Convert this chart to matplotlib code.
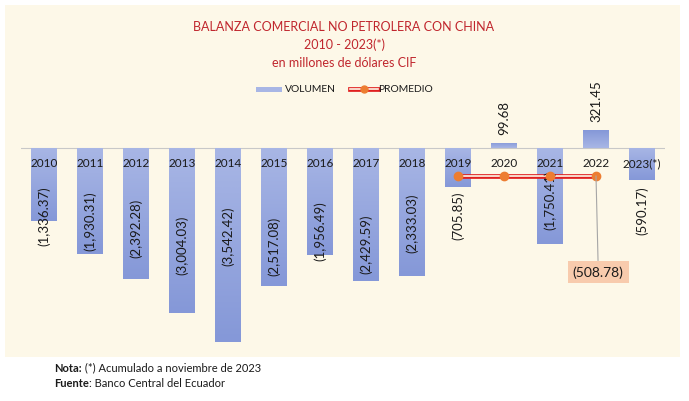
import matplotlib.pyplot as plt
import numpy as np
from matplotlib.colors import LinearSegmentedColormap

# Datos (millones de USD CIF)
years = ["2010", "2011", "2012", "2013", "2014", "2015", "2016",
         "2017", "2018", "2019", "2020", "2021", "2022", "2023(*)"]
volumen = [-1336.37, -1930.31, -2392.28, -3004.03, -3542.42, -2517.08, -1956.49,
           -2429.59, -2333.03, -705.85, 99.68, -1750.41, 321.45, -590.17]
value_labels = ["(1,336.37)", "(1,930.31)", "(2,392.28)", "(3,004.03)", "(3,542.42)",
                "(2,517.08)", "(1,956.49)", "(2,429.59)", "(2,333.03)", "(705.85)",
                "99.68", "(1,750.41)", "321.45", "(590.17)"]
# years used for the average line
prom_years = ["2019", "2020", "2021", "2022"]

# label positions (data units) as placed in the original chart
label_y = [-1223, -1314, -1442, -1752, -1588, -1770, -1505,
           -1734, -1350, -1223, 566, -931, 867, -1131]

plt.rcParams["font.family"] = ["Lato", "DejaVu Sans"]

bg = "#FDF8E8"
bar_light = "#A8B6E5"
bar_dark = "#8598D8"
txt = "#1a1a1a"
grad_cmap = LinearSegmentedColormap.from_list("barras", [bar_light, bar_dark])

W, H, DPI = 689, 402, 100
fig = plt.figure(figsize=(W / DPI, H / DPI), dpi=DPI)
fig.patch.set_facecolor("white")

# fondo crema del grafico
fig.patches.append(plt.Rectangle((5 / W, 1 - 358 / H), 675 / W, 352 / H,
                                 transform=fig.transFigure, facecolor=bg,
                                 edgecolor="none", zorder=-5))

ax = fig.add_axes([21 / W, 1 - 350 / H, 644 / W, 270 / H])
ax.set_facecolor("none")
ax.set_zorder(2)
x = np.arange(len(years))
bars = ax.bar(x, volumen, width=0.56, color=bar_dark, zorder=2)
ax.axhline(0, color="#C8C8C8", lw=0.8, zorder=1)
ax.axis("off")

# degradado en cada barra (claro junto al cero)
grad = np.linspace(0, 1, 64).reshape(-1, 1)
for b in bars:
    x0, w, h = b.get_x(), b.get_width(), b.get_height()
    im = ax.imshow(grad, extent=(x0, x0 + w, min(0, h), max(0, h)),
                   origin="upper" if h < 0 else "lower",
                   cmap=grad_cmap, aspect="auto", zorder=2.1, interpolation="bilinear")
    im.set_clip_path(b)
ax.set_xlim(-0.5, len(years) - 0.5)
ax.set_ylim(-3668, 1259)

# etiquetas de año
for i, y in enumerate(years):
    ax.text(i, -270, y, ha="center", va="center", fontsize=8.5, color=txt, zorder=4)

# etiquetas de valores
for i, lab in enumerate(value_labels):
    ax.text(i, label_y[i], lab, ha="center", va="center", rotation=90,
            fontsize=9.5, color=txt, zorder=4)

# promedio 2019-2022
idx = [years.index(y) for y in prom_years]
promedio = np.mean([volumen[i] for i in idx])
px = x[idx]
py = [promedio] * len(idx)
ax.plot(px, py, color="#E02020", lw=3.4, zorder=3, solid_capstyle="butt")
ax.plot(px, py, color=bg, lw=1.2, zorder=3, solid_capstyle="butt")
ax.plot(px, py, "o", color="#ED7D31", ms=6, lw=0, zorder=5)

# etiqueta del promedio
ax.annotate(f"({abs(promedio):,.2f})", xy=(px[-1], promedio), xytext=(px[-1] + 0.05, -2260),
            ha="center", va="center", fontsize=10, color=txt,
            bbox=dict(boxstyle="square,pad=0.35", facecolor="#F8CBAD", edgecolor="none"),
            arrowprops=dict(arrowstyle="-", color="#A6A6A6", lw=0.8,
                            shrinkA=0, shrinkB=0), zorder=6)

# titulo
title_color = "#C0262D"
for ypix, line in [(27, "BALANZA COMERCIAL NO PETROLERA CON CHINA"),
                   (45, "2010 - 2023(*)"),
                   (63, "en millones de dólares CIF")]:
    fig.text(344 / W, 1 - ypix / H, line, ha="center", va="center",
             fontsize=9, color=title_color)

# leyenda
fig.patches.append(plt.Rectangle((256 / W, 1 - 92.5 / H), 26 / W, 5 / H,
                                 transform=fig.transFigure, facecolor=bar_light,
                                 edgecolor="none"))
fig.text(285 / W, 1 - 90 / H, "VOLUMEN", ha="left", va="center", fontsize=7.4, color=txt)
lx = np.array([350, 378]) / W
ly = np.array([1 - 90 / H] * 2)
fig.add_artist(plt.Line2D(lx, ly, color="#E02020", lw=3.4, transform=fig.transFigure))
fig.add_artist(plt.Line2D(lx, ly, color=bg, lw=1.2, transform=fig.transFigure))
fig.add_artist(plt.Line2D([lx.mean()], [ly[0]], marker="o", color="#ED7D31", ms=5,
                          transform=fig.transFigure))
fig.text(378 / W, 1 - 90 / H, "PROMEDIO", ha="left", va="center", fontsize=7.4, color=txt)

# notas
fig.canvas.draw()
r = fig.canvas.get_renderer()
for ypix, head, rest in [(368, "Nota:", " (*) Acumulado a noviembre de 2023"),
                         (384, "Fuente", ": Banco Central del Ecuador")]:
    t = fig.text(54 / W, 1 - ypix / H, head, ha="left", va="center",
                 fontsize=8, fontweight="bold", color=txt)
    w = t.get_window_extent(renderer=r).width
    fig.text((54 + w) / W, 1 - ypix / H, rest, ha="left", va="center",
             fontsize=8, color=txt)

fig.savefig("out.png", dpi=DPI)
